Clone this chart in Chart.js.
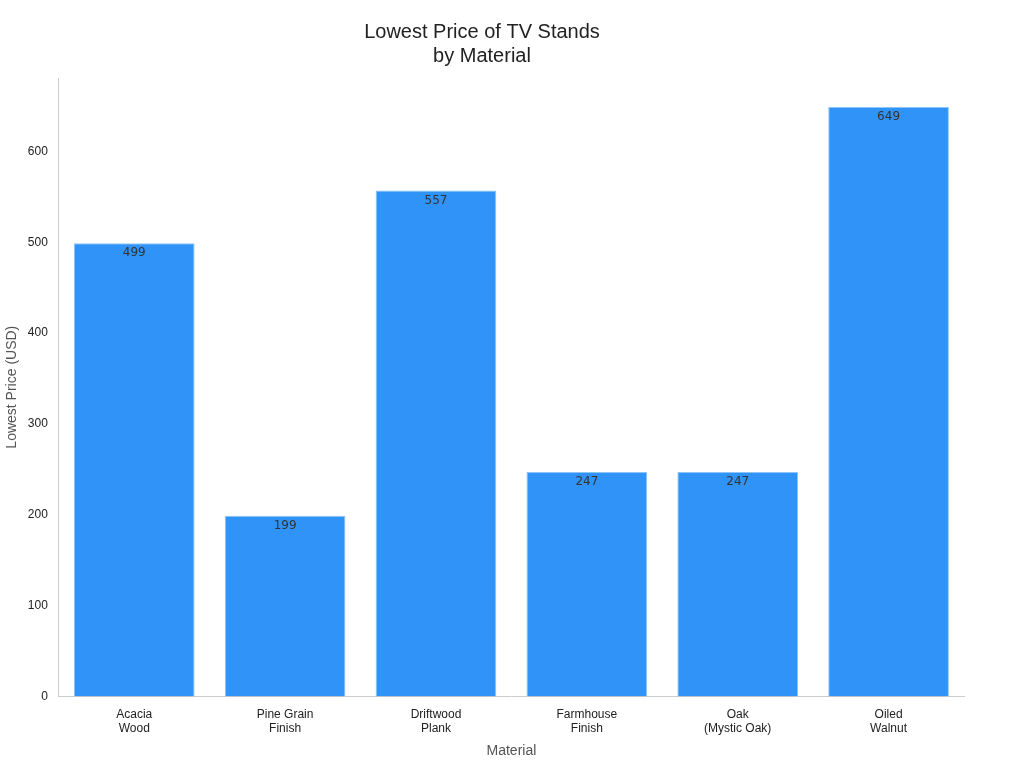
<!DOCTYPE html>
<html lang="en">
<head>
    <meta charset="UTF-8">
    <title>Lowest Price of TV Stands by Material</title>
    <style>
        body { margin: 0; background: #fff; font-family: "DejaVu Sans", sans-serif; }
        #wrap { width: 1024px; height: 768px; }
    </style>
    <script src="https://cdn.jsdelivr.net/npm/chart.js"></script>
</head>
<body>
    <div id="wrap"><canvas id="myChart" width="1024" height="768"></canvas></div>
    <script>
        const categories = [["Acacia", "Wood"], ["Pine Grain", "Finish"], ["Driftwood", "Plank"],
                            ["Farmhouse", "Finish"], ["Oak", "(Mystic Oak)"], ["Oiled", "Walnut"]];
        const prices = [499, 199, 557, 247, 247, 649];
        const yTicks = [0, 100, 200, 300, 400, 500, 600];

        // value labels just below the top of each bar
        const barLabels = {
            id: 'barLabels',
            afterDatasetsDraw(chart) {
                const ctx = chart.ctx;
                const meta = chart.getDatasetMeta(0);
                ctx.save();
                ctx.font = '12px "DejaVu Sans"';
                ctx.fillStyle = '#333';
                ctx.textAlign = 'center';
                ctx.textBaseline = 'top';
                meta.data.forEach((bar, i) => {
                    ctx.fillText(prices[i], bar.x, bar.y + 4);
                });
                ctx.restore();
            }
        };

        new Chart(document.getElementById('myChart'), {
            type: 'bar',
            data: {
                labels: categories,
                datasets: [{
                    data: prices,
                    backgroundColor: '#2f93f7',
                    borderColor: '#8cc4fa',
                    borderWidth: 1,
                    barPercentage: 0.8,
                    categoryPercentage: 1
                }]
            },
            options: {
                responsive: false,
                animation: false,
                layout: { padding: { top: 10, right: 60, left: 0, bottom: 4 } },
                scales: {
                    x: {
                        grid: { display: false, drawTicks: true },
                        border: { color: '#ccc' },
                        ticks: { color: '#222', font: { size: 12 } },
                        title: { display: true, text: 'Material', color: '#555', font: { size: 14 } }
                    },
                    y: {
                        min: 0, max: 681,
                        afterBuildTicks(axis) { axis.ticks = yTicks.map(v => ({ value: v })); },
                        grid: { display: false, drawTicks: true, tickColor: '#888' },
                        border: { color: '#ccc' },
                        ticks: { color: '#222', font: { size: 12 } },
                        title: { display: true, text: 'Lowest Price (USD)', color: '#555', font: { size: 14 } }
                    }
                },
                plugins: {
                    legend: { display: false },
                    tooltip: { enabled: false },
                    title: {
                        display: true,
                        text: ['Lowest Price of TV Stands', 'by Material'],
                        color: '#222',
                        font: { size: 20, weight: 'normal' },
                        padding: { top: 10, bottom: 10 }
                    }
                }
            },
            plugins: [barLabels]
        });
    </script>
</body>
</html>
